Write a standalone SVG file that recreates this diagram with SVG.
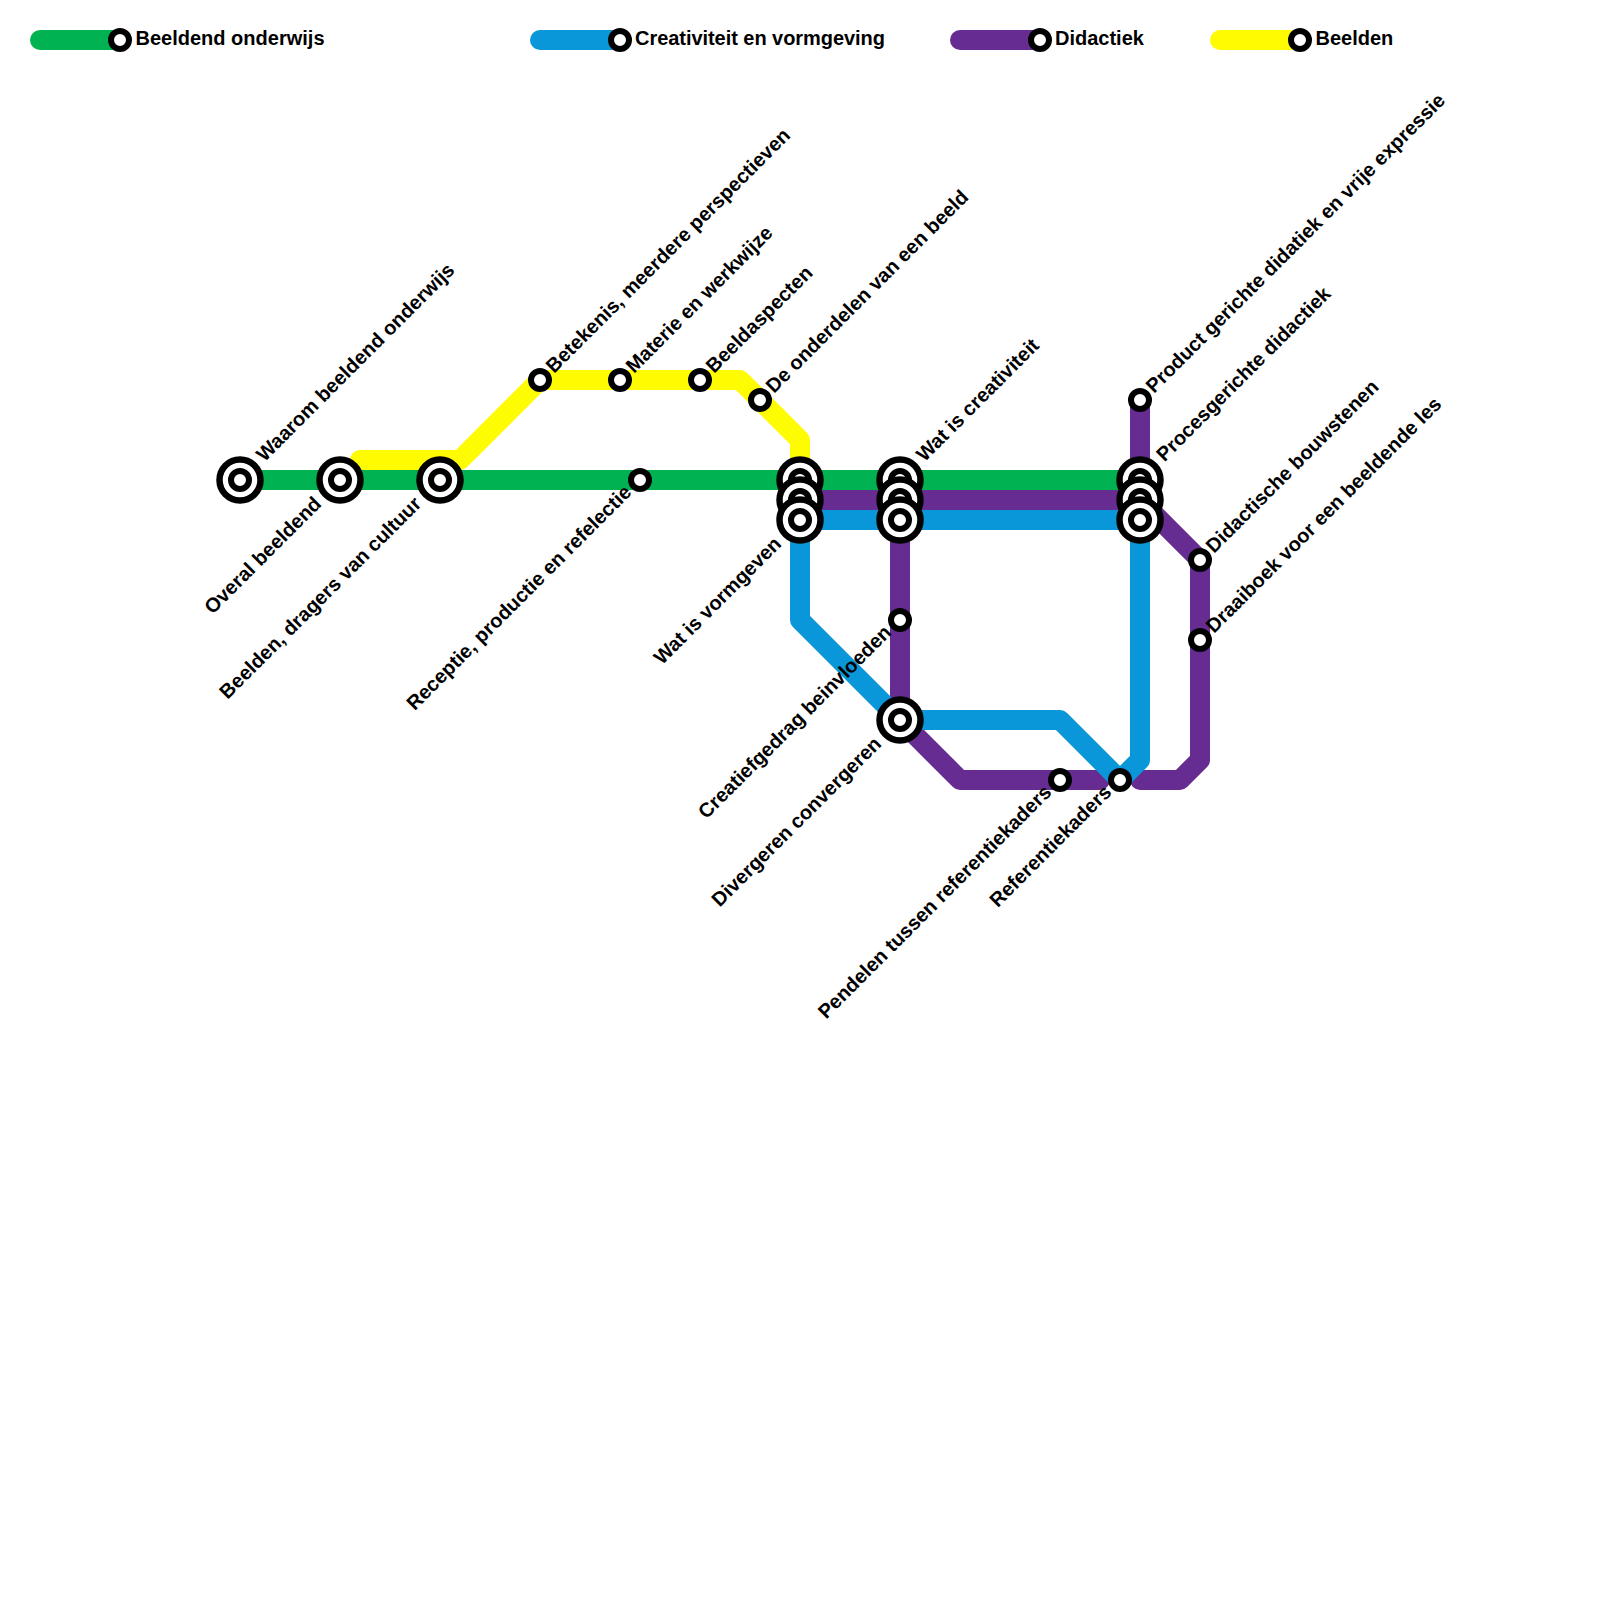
<svg xmlns="http://www.w3.org/2000/svg" width="1600" height="1600" viewBox="0 0 1600 1600">
<style>
.l{fill:none;stroke-width:20;stroke-linejoin:round;stroke-linecap:round}
.g{stroke:#00b251}.b{stroke:#0a97d9}.p{stroke:#662c91}.y{stroke:#fffb00}
.o{fill:#fff;stroke:#000;stroke-width:6}
.r{fill:#fff;stroke:#000;stroke-width:6.500}
text{font-family:"Liberation Sans",Arial,sans-serif;font-size:20px;font-weight:700;fill:#000}
.e{text-anchor:end}
</style>
<defs>
<g id="s"><circle class="o" r="9"/></g>
<g id="i"><circle class="r" r="20.500"/><circle class="o" r="9"/></g>
</defs>
<rect width="1600" height="1600" fill="#fff"/>
<g id="connectors">
<path class="l y" d="M360 460H460L540 380H740L800 440V480"/>
<path class="l g" d="M240 480H1140"/>
<path class="l p" d="M800 500H1140M1140 400V500L1200 560V760L1180 780H1140M900 500V720L960 780H1100"/>
<path class="l b" d="M800 520H1140V760L1120 780L1060 720H900M800 520V620L900 720"/>
<path class="l g" d="M40 40H120"/><path class="l b" d="M540 40H620"/><path class="l p" d="M960 40H1040"/><path class="l y" d="M1220 40H1300"/>
</g>
<g id="legend-green"><use href="#s" x="120" y="40"/><text x="135.500" y="45" textLength="189">Beeldend onderwijs</text></g>
<g id="legend-blue"><use href="#s" x="620" y="40"/><text x="635" y="45" textLength="250">Creativiteit en vormgeving</text></g>
<g id="legend-purple"><use href="#s" x="1040" y="40"/><text x="1055" y="45">Didactiek</text></g>
<g id="legend-yellow"><use href="#s" x="1300" y="40"/><text x="1315.500" y="45">Beelden</text></g>
<g id="n1"><use href="#i" x="240" y="480"/><text transform="translate(264.500 462.500) rotate(-45)">Waarom beeldend onderwijs</text></g>
<g id="n2"><use href="#i" x="340" y="480"/><text class="e" transform="translate(322.500 505) rotate(-45)">Overal beeldend</text></g>
<g id="n3"><use href="#i" x="440" y="480"/><text class="e" transform="translate(422.500 505) rotate(-45)">Beelden, dragers van cultuur</text></g>
<g id="n4"><use href="#s" x="540" y="380"/><text transform="translate(554 374) rotate(-45)">Betekenis, meerdere perspectieven</text></g>
<g id="n5"><use href="#s" x="620" y="380"/><text transform="translate(634 374) rotate(-45)">Materie en werkwijze</text></g>
<g id="n6"><use href="#s" x="700" y="380"/><text transform="translate(714 374) rotate(-45)">Beeldaspecten</text></g>
<g id="n7"><use href="#s" x="760" y="400"/><text transform="translate(774 394) rotate(-45)">De onderdelen van een beeld</text></g>
<g id="n8"><use href="#s" x="640" y="480"/><text class="e" transform="translate(632.500 493.500) rotate(-45)">Receptie, productie en refelectie</text></g>
<g id="n9a"><use href="#i" x="800" y="480"/></g>
<g id="n9b"><use href="#i" x="800" y="500"/></g>
<g id="n9c"><use href="#i" x="800" y="520"/><text class="e" transform="translate(782.500 545) rotate(-45)">Wat is vormgeven</text></g>
<g id="n10a"><use href="#i" x="900" y="480"/><text transform="translate(924.500 462.500) rotate(-45)">Wat is creativiteit</text></g>
<g id="n10b"><use href="#i" x="900" y="500"/></g>
<g id="n10c"><use href="#i" x="900" y="520"/></g>
<g id="n11"><use href="#s" x="900" y="620"/><text class="e" transform="translate(892.500 633.500) rotate(-45)">Creatiefgedrag beinvloeden</text></g>
<g id="n12"><use href="#i" x="900" y="720"/><text class="e" transform="translate(882.500 745) rotate(-45)">Divergeren convergeren</text></g>
<g id="n13"><use href="#s" x="1060" y="780"/><text class="e" transform="translate(1052.500 793.500) rotate(-45)">Pendelen tussen referentiekaders</text></g>
<g id="n14"><use href="#s" x="1120" y="780"/><text class="e" transform="translate(1112.500 793.500) rotate(-45)">Referentiekaders</text></g>
<g id="n15"><use href="#s" x="1140" y="400"/><text transform="translate(1154 394) rotate(-45)">Product gerichte didatiek en vrije expressie</text></g>
<g id="n16a"><use href="#i" x="1140" y="480"/><text transform="translate(1164.500 462.500) rotate(-45)">Procesgerichte didactiek</text></g>
<g id="n16b"><use href="#i" x="1140" y="500"/></g>
<g id="n16c"><use href="#i" x="1140" y="520"/></g>
<g id="n17"><use href="#s" x="1200" y="560"/><text transform="translate(1214 554) rotate(-45)">Didactische bouwstenen</text></g>
<g id="n18"><use href="#s" x="1200" y="640"/><text transform="translate(1214 634) rotate(-45)">Draaiboek voor een beeldende les</text></g>
</svg>
